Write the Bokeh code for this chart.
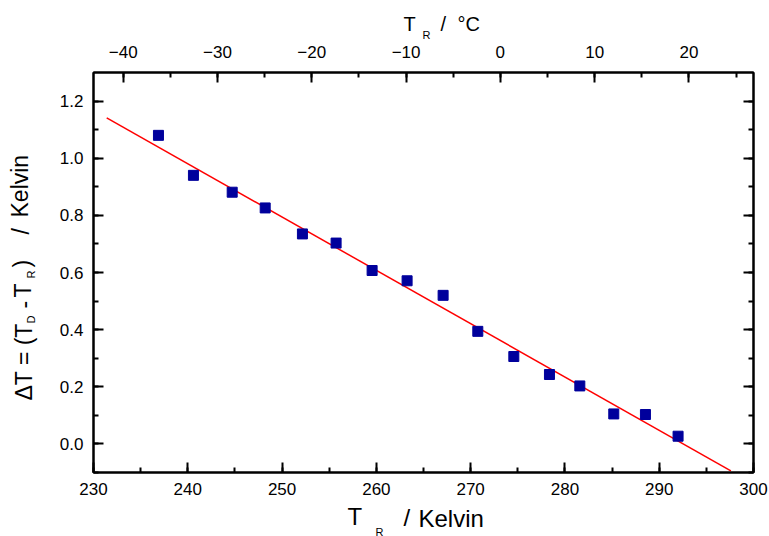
import numpy as np
from bokeh.plotting import figure
from bokeh.models import Range1d, LinearAxis, SingleIntervalTicker, PrintfTickFormatter, Title
from bokeh.embed import file_html
from bokeh.resources import INLINE

# ---- data ----
t_r_kelvin = [236.89, 240.60, 244.71, 248.21, 252.16, 255.73, 259.55, 263.26,
              267.08, 270.76, 274.58, 278.36, 281.58, 285.18, 288.54, 292.00]
delta_t = [1.080, 0.940, 0.881, 0.826, 0.735, 0.703, 0.607, 0.571,
           0.520, 0.394, 0.306, 0.243, 0.203, 0.105, 0.103, 0.027]
fit_x = [231.4, 297.6]
fit_y = [1.141, -0.094]
kelvin_offset = 273.15
x_range_k = (230, 300)
y_range_v = (-0.1, 1.3)

FONT = "Liberation Sans"
H = 1.09  # assumed text box height / font size

p = figure(frame_width=660, frame_height=400,
           x_range=Range1d(*x_range_k), y_range=Range1d(*y_range_v),
           output_backend="svg", toolbar_location=None,
           min_border_left=93, min_border_right=16, min_border_top=72, min_border_bottom=64)
p.extra_x_ranges = {"C": Range1d(x_range_k[0] - kelvin_offset, x_range_k[1] - kelvin_offset)}
p.xgrid.visible = False
p.ygrid.visible = False
p.outline_line_color = "black"
p.outline_line_width = 2

bottom_axis = p.below[0]
left_axis = p.left[0]
top_axis = LinearAxis(x_range_name="C")
right_axis = LinearAxis()
p.add_layout(top_axis, "above")
p.add_layout(right_axis, "right")

for ax in [bottom_axis, top_axis]:
    ax.ticker = SingleIntervalTicker(interval=10, num_minor_ticks=2)
for ax in [left_axis, right_axis]:
    ax.ticker = SingleIntervalTicker(interval=0.2, num_minor_ticks=2)
    ax.formatter = PrintfTickFormatter(format="%.1f")

for ax in [bottom_axis, top_axis, left_axis, right_axis]:
    ax.axis_line_color = "black"
    ax.axis_line_width = 2
    ax.major_tick_in = 10
    ax.major_tick_out = 0
    ax.minor_tick_in = 5
    ax.minor_tick_out = 0
    ax.major_tick_line_width = 2
    ax.minor_tick_line_width = 2
    ax.major_label_text_font = FONT
    ax.major_label_text_font_size = "17px"
    ax.major_label_text_color = "black"

bottom_axis.major_label_standoff = 10
top_axis.major_label_standoff = 15
left_axis.major_label_standoff = 10
right_axis.major_label_text_font_size = "0px"
right_axis.major_label_standoff = 0

# ---- marks ----
p.line(fit_x, fit_y, line_color="red", line_width=1.5)
p.scatter(t_r_kelvin, delta_t, marker="square", size=10,
          fill_color="#00009C", line_color="#00009C")

# ---- axis titles built from side-panel Titles ----
def place(side, axis_size, groups):
    """groups: list of (center_distance_from_frame, [(text, font_px, offset_px), ...])"""
    b = axis_size
    for dist, pieces in groups:
        gap = dist - b
        p.add_layout(Title(text=" ", text_font=FONT, text_font_size="10px",
                           vertical_align="middle", standoff=gap - 2 - H * 10), side)
        for text, fs, off in pieces:
            p.add_layout(Title(text=text, text_font=FONT, text_font_size=f"{fs}px",
                               text_font_style="normal", text_color="black",
                               align="left", offset=off, vertical_align="middle",
                               standoff=-(2 + H * fs)), side)
        b = dist

place("below", 10 + H * 17, [
    (46.4, [("T", 24, 254), ("/", 24, 310), ("Kelvin", 24, 325)]),
    (59.2, [("R", 11, 282)]),
])
place("above", 15 + H * 17, [
    (41.3, [("R", 11, 329)]),
    (51.9, [("T", 20, 310), ("/", 20, 347), ("°C", 20, 364)]),
])
place("left", 10 + 1.39 * 17, [
    (59.8, [("D", 11, 149), ("R", 11, 194)]),
    (65.5, [("\u0394T = (T", 23, 72), ("-", 23, 164), ("T", 23, 175),
            (")", 23, 205), ("/", 23, 238), ("Kelvin", 23, 255)]),
])

open("out.html", "w").write(file_html(p, INLINE))
